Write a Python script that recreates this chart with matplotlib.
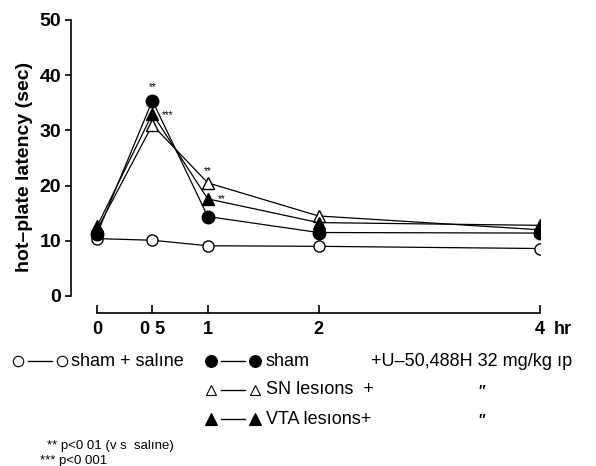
import matplotlib
matplotlib.use("Agg")
import matplotlib.pyplot as plt

plt.rcParams['font.family'] = ['Liberation Sans', 'DejaVu Sans']

hours = [0, 0.5, 1, 2, 4]
sham_saline = [10.4, 10.1, 9.1, 9.0, 8.6]
sham = [11.2, 35.4, 14.4, 11.5, 11.4]
sn_lesions = [12.0, 31.0, 20.5, 14.5, 12.0]
vta_lesions = [12.6, 33.0, 17.6, 13.3, 12.8]

xtick_vals = [0, 0.5, 1, 2, 4]
xtick_labels = ['0', '0 5', '1', '2', '4']
ytick_vals = [0, 10, 20, 30, 40, 50]

fig = plt.figure(figsize=(5.96, 4.66), dpi=100)
ax = fig.add_axes([71/596, 153/466, 469/596, 293/466])

px_per_hr = 110.75
px_per_unit = 5.52
ax.set_xlim(-26/px_per_hr, 4.0)
ax.set_ylim(-17/px_per_unit, 50)

lw = 0.9
ms = 8
ax.plot(hours, sham_saline, color='black', lw=lw, marker='o', ms=ms,
        mfc='white', mec='black', mew=1.0, zorder=3)
ax.plot(hours, sn_lesions, color='black', lw=lw, marker='^', ms=ms,
        mfc='white', mec='black', mew=1.0, zorder=3)
ax.plot(hours, vta_lesions, color='black', lw=lw, marker='^', ms=ms,
        mfc='black', mec='black', zorder=4)
ax.plot(hours, sham, color='black', lw=lw, marker='o', ms=ms + 1,
        mfc='black', mec='black', zorder=5)

# significance marks
ax.annotate('**', (0.5, sham[1]), xytext=(0, 6), textcoords='offset points',
            ha='center', va='bottom', fontsize=7)
ax.annotate('***', (0.5, vta_lesions[1]), xytext=(7, -1), textcoords='offset points',
            ha='left', va='center', fontsize=7)
ax.annotate('**', (1, sn_lesions[2]), xytext=(0, 5), textcoords='offset points',
            ha='center', va='bottom', fontsize=7)
ax.annotate('**', (1, vta_lesions[2]), xytext=(7, 0), textcoords='offset points',
            ha='left', va='center', fontsize=7)

for s in ['top', 'right']:
    ax.spines[s].set_visible(False)
ax.spines['left'].set_bounds(0, 50)
ax.spines['bottom'].set_bounds(0, 4)
ax.spines['left'].set_linewidth(1.2)
ax.spines['bottom'].set_linewidth(1.2)

ax.set_yticks(ytick_vals)
ax.set_yticklabels([str(v) for v in ytick_vals], fontsize=14, fontweight='bold')
ax.set_xticks(xtick_vals)
ax.set_xticklabels(xtick_labels, fontsize=13, fontweight='bold')
ax.tick_params(axis='y', direction='out', length=4, width=1.2, pad=3)
ax.tick_params(axis='x', direction='in', length=6, width=1.2, pad=6)
ax.set_ylabel('hot\u2013plate latency (sec)', fontsize=14, fontweight='bold', labelpad=5)
ax.annotate('hr', xy=(4, 0), xycoords=('data', 'axes fraction'),
            xytext=(10, -6), textcoords='offset points', ha='left', va='top',
            fontsize=13, fontweight='bold')

# legend overlay in pixel coordinates
lg = fig.add_axes([0, 0, 1, 1], facecolor='none')
lg.set_xlim(0, 596)
lg.set_ylim(466, 0)
lg.axis('off')

def sym(x0, x1, y, marker, filled, size):
    gap = 10
    lg.plot([x0 + gap, x1 - gap], [y, y], color='black', lw=1.0)
    lg.plot([x0, x1], [y, y], ls='none', marker=marker, ms=size,
            mfc='black' if filled else 'white', mec='black', mew=0.8)

fs = 13
sym(18, 62, 361, 'o', False, 7.5)
lg.text(71, 361, 'sham + sal\u0131ne', fontsize=fs, va='center', ha='left')
sym(211, 255, 361, 'o', True, 8.5)
lg.text(266, 361, 'sham', fontsize=fs, va='center', ha='left')
lg.text(371, 361, '+U\u201350,488H 32 mg/kg \u0131p', fontsize=fs, va='center', ha='left')
sym(211, 255, 390, '^', False, 7)
lg.text(266, 390, 'SN les\u0131ons  +', fontsize=fs, va='center', ha='left')
lg.text(478, 391, '\u2033', fontsize=10, va='center', ha='left', fontweight='bold')
sym(211, 255, 419, '^', True, 8)
lg.text(266, 419, 'VTA les\u0131ons+', fontsize=fs, va='center', ha='left')
lg.text(478, 420, '\u2033', fontsize=10, va='center', ha='left', fontweight='bold')
lg.text(47, 446, '** p<0 01 (v s  sal\u0131ne)', fontsize=9.5, va='center', ha='left')
lg.text(40, 461, '*** p<0 001', fontsize=9.5, va='center', ha='left')

fig.savefig('out.png', dpi=100)
